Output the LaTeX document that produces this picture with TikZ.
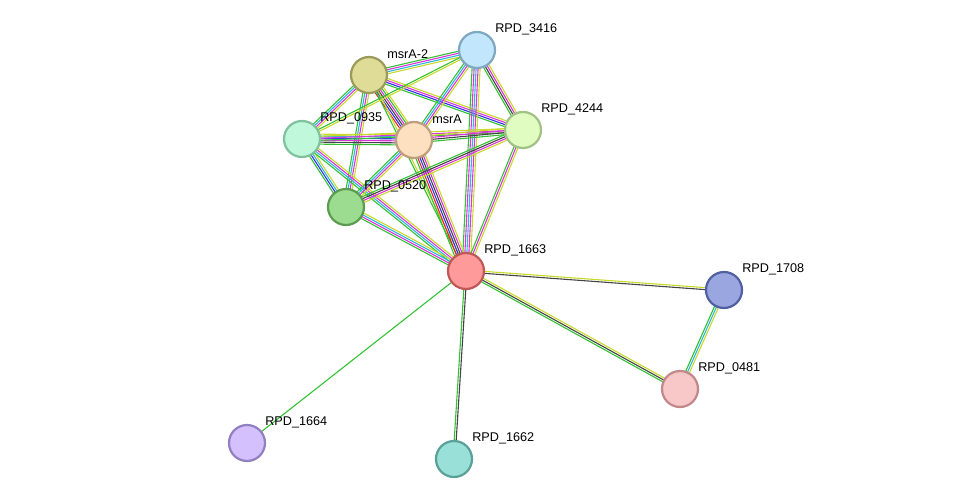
\documentclass[tikz,border=0pt]{standalone}
\usepackage{fontspec}
\setmainfont{Liberation Sans}
\usetikzlibrary{calc}
\definecolor{colG}{HTML}{33C233}
\definecolor{colY}{HTML}{C8D92A}
\definecolor{colC}{HTML}{2EB5E0}
\definecolor{colM}{HTML}{DD33DD}
\definecolor{colK}{HTML}{444444}
\definecolor{colB}{HTML}{3333EE}
\definecolor{colR}{HTML}{EE2222}
\definecolor{fA}{HTML}{DEDC96}\definecolor{dA}{HTML}{9A9A5A}
\definecolor{fB}{HTML}{C2E6FB}\definecolor{dB}{HTML}{7EA7C0}
\definecolor{fC}{HTML}{E0FCC0}\definecolor{dC}{HTML}{A2C184}
\definecolor{fD}{HTML}{BFF8DB}\definecolor{dD}{HTML}{7FC29D}
\definecolor{fE}{HTML}{FCE0C0}\definecolor{dE}{HTML}{BF9E7E}
\definecolor{fF}{HTML}{9CDC90}\definecolor{dF}{HTML}{5C9C50}
\definecolor{fH}{HTML}{FF9A9A}\definecolor{dH}{HTML}{C05858}
\definecolor{fI}{HTML}{9AA6E0}\definecolor{dI}{HTML}{5060A0}
\definecolor{fJ}{HTML}{F8C8C8}\definecolor{dJ}{HTML}{C08888}
\definecolor{fL}{HTML}{D4C0FC}\definecolor{dL}{HTML}{9080C0}
\definecolor{fN}{HTML}{98E0D8}\definecolor{dN}{HTML}{58A098}
\newlength\unitpx \setlength\unitpx{0.02cm}
\tikzset{
  prot/.style={circle,minimum size=36\unitpx,inner sep=0pt,line width=2.2\unitpx},
  lab/.style={anchor=west,font=\fontsize{7.2}{8}\selectfont,inner sep=0pt},
}
\newcommand\sedge[4]{%
  \foreach \c [count=\i] in {#4} {%
    \pgfmathsetmacro\off{(\i-1-(#3-1)/2)*2}%
    \draw[draw=col\c,line width=1.1\unitpx] ($(#1)!\off\unitpx!90:(#2)$) -- ($(#2)!\off\unitpx!-90:(#1)$);
  }}
\newcommand\prot[5]{%
  \node[prot,fill=#4,draw=#5] (#1) at (#2) {};
  \node[lab] (#1l) at ($(#2)+(18,-21)$) {#3};}
\begin{document}
\begin{tikzpicture}[x=0.02cm,y=-0.02cm]
\useasboundingbox (0,0) rectangle (975,504);
\coordinate (a2) at (369,75);
\coordinate (p3416) at (477,50);
\coordinate (p4244) at (523,130);
\coordinate (p0935) at (302,139);
\coordinate (ma) at (414,140);
\coordinate (p0520) at (346,207);
\coordinate (p1663) at (466,271);
\coordinate (p1708) at (724,290);
\coordinate (p0481) at (680,389);
\coordinate (p1664) at (247,443);
\coordinate (p1662) at (454,459);
\sedge{a2}{p3416}{4}{Y,C,M,G}
\sedge{a2}{p4244}{4}{G,B,M,Y}
\sedge{a2}{p0935}{4}{G,C,M,Y}
\sedge{a2}{ma}{6}{R,B,K,M,G,Y}
\sedge{a2}{p0520}{4}{G,C,M,Y}
\sedge{a2}{p1663}{2}{G,Y}
\sedge{p3416}{ma}{4}{G,C,M,Y}
\sedge{p3416}{p4244}{4}{G,K,M,Y}
\sedge{p3416}{p1663}{5}{G,M,C,M,Y}
\sedge{p3416}{p0935}{2}{G,Y}
\sedge{p0935}{ma}{6}{G,K,M,B,C,Y}
\sedge{p0935}{p4244}{3}{G,M,Y}
\sedge{p0935}{p0520}{4}{G,B,C,Y}
\sedge{p0935}{p1663}{4}{G,C,M,Y}
\sedge{ma}{p4244}{4}{G,K,M,Y}
\sedge{ma}{p0520}{4}{G,C,M,Y}
\sedge{ma}{p1663}{6}{G,R,B,K,M,Y}
\sedge{p4244}{p0520}{4}{G,K,M,Y}
\sedge{p4244}{p1663}{3}{G,M,Y}
\sedge{p0520}{p1663}{4}{G,M,C,Y}
\sedge{p1663}{p1708}{2}{K,Y}
\sedge{p1663}{p0481}{3}{G,K,Y}
\sedge{p1708}{p0481}{3}{G,C,Y}
\sedge{p1663}{p1664}{1}{G}
\sedge{p1663}{p1662}{2}{G,K}
\prot{n2}{a2}{msrA-2}{fA}{dA}
\prot{n3416}{p3416}{RPD\_3416}{fB}{dB}
\prot{n4244}{p4244}{RPD\_4244}{fC}{dC}
\prot{n0935}{p0935}{RPD\_0935}{fD}{dD}
\prot{nma}{ma}{msrA}{fE}{dE}
\prot{n0520}{p0520}{RPD\_0520}{fF}{dF}
\prot{n1663}{p1663}{RPD\_1663}{fH}{dH}
\prot{n1708}{p1708}{RPD\_1708}{fI}{dI}
\prot{n0481}{p0481}{RPD\_0481}{fJ}{dJ}
\prot{n1664}{p1664}{RPD\_1664}{fL}{dL}
\prot{n1662}{p1662}{RPD\_1662}{fN}{dN}
\end{tikzpicture}
\end{document}
